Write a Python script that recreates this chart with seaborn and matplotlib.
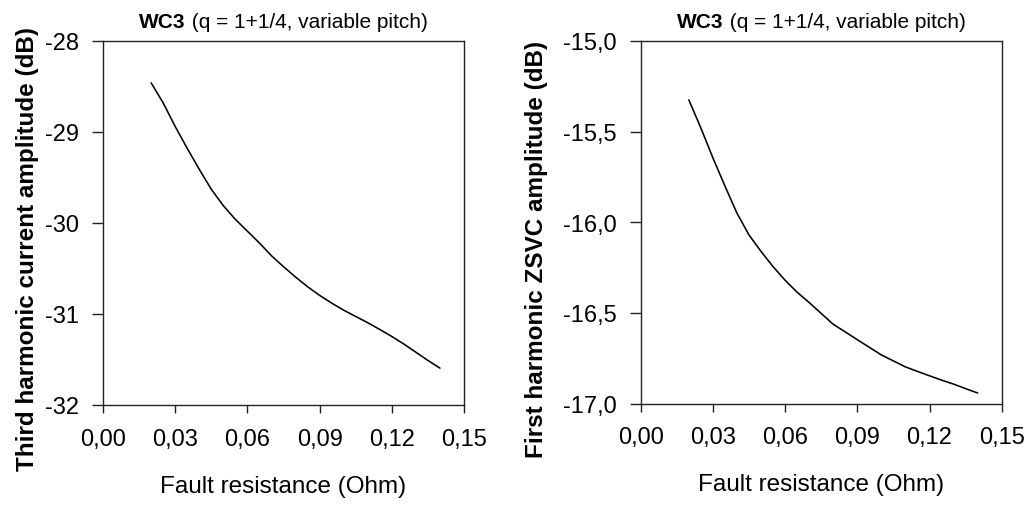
import matplotlib
matplotlib.use("Agg")
import matplotlib.pyplot as plt
import seaborn as sns
import pandas as pd

# ---- data ----
fault_resistance = [0.020, 0.025, 0.030, 0.035, 0.040, 0.045, 0.050, 0.055, 0.060, 0.065,
                    0.070, 0.075, 0.080, 0.085, 0.090, 0.095, 0.100, 0.105, 0.110, 0.115,
                    0.120, 0.125, 0.130, 0.135, 0.140]
third_harmonic_current = [-28.46, -28.68, -28.94, -29.18, -29.41, -29.63, -29.81, -29.96,
                          -30.09, -30.22, -30.36, -30.48, -30.594, -30.70, -30.795, -30.88,
                          -30.958, -31.027, -31.096, -31.17, -31.247, -31.33, -31.42,
                          -31.51, -31.595]
first_harmonic_zsvc = [-15.325, -15.48, -15.645, -15.80, -15.95, -16.07, -16.161, -16.245,
                       -16.32, -16.386, -16.443, -16.503, -16.563, -16.605, -16.648, -16.69,
                       -16.732, -16.765, -16.798, -16.823, -16.847, -16.871, -16.893,
                       -16.918, -16.942]

x_ticks = [0.00, 0.03, 0.06, 0.09, 0.12, 0.15]
x_ticklabels = ["0,00", "0,03", "0,06", "0,09", "0,12", "0,15"]
left_yticks = [-32, -31, -30, -29, -28]
left_yticklabels = ["-32", "-31", "-30", "-29", "-28"]
right_yticks = [-17.0, -16.5, -16.0, -15.5, -15.0]
right_yticklabels = ["-17,0", "-16,5", "-16,0", "-15,5", "-15,0"]

title_bold = "WC3"
title_rest = " (q = 1+1/4, variable pitch)"
xlabel = "Fault resistance (Ohm)"
left_ylabel = "Third harmonic current amplitude (dB)"
right_ylabel = "First harmonic ZSVC amplitude (dB)"

sns.set_theme(style="white")
plt.rcParams["font.family"] = ["Liberation Sans", "DejaVu Sans"]
plt.rcParams["axes.unicode_minus"] = False

TICK_FS = 17
XLAB_FS = 17.5
YLAB_FS = 17.5
TITLE_FS = 15

W, H = 1031, 506
fig = plt.figure(figsize=(W / 100, H / 100), dpi=100)

def make_axes(x0, x1, y_top, y_bot):
    return fig.add_axes([x0 / W, 1 - y_bot / H, (x1 - x0) / W, (y_bot - y_top) / H])

ax1 = make_axes(103, 464, 42, 406)
ax2 = make_axes(640.7, 1001.7, 42, 404.5)

df1 = pd.DataFrame({"x": fault_resistance, "y": third_harmonic_current})
df2 = pd.DataFrame({"x": fault_resistance, "y": first_harmonic_zsvc})

panels = [
    (ax1, df1, left_yticks, left_yticklabels, (-32, -28), left_ylabel, (-0.178, 0.43)),
    (ax2, df2, right_yticks, right_yticklabels, (-0.258, 0.428)),
]
panels[1] = (ax2, df2, right_yticks, right_yticklabels, (-17, -15), right_ylabel, (-0.258, 0.428))

for ax, df, yt, ytl, ylim, ylab, lab_xy in panels:
    sns.lineplot(data=df, x="x", y="y", ax=ax, color="black", linewidth=1.15)
    ax.set_xlim(0, 0.15)
    ax.set_ylim(*ylim)
    ax.set_xticks(x_ticks)
    ax.set_xticklabels(x_ticklabels)
    ax.set_yticks(yt)
    ax.set_yticklabels(ytl)
    for s in ax.spines.values():
        s.set_visible(True)
        s.set_color("#222222")
        s.set_linewidth(1.0)
    ax.tick_params(axis="y", which="major", direction="out", length=8, width=1.0,
                   color="#222222", labelsize=TICK_FS, labelcolor="black", pad=9,
                   left=True, right=False)
    ax.tick_params(axis="x", which="major", direction="out", length=5.5, width=1.0,
                   color="#222222", labelsize=TICK_FS, labelcolor="black", pad=11,
                   bottom=True, top=False)
    ax.set_xlabel(xlabel, fontsize=XLAB_FS, labelpad=18, color="black")
    ax.set_ylabel(ylab, fontsize=YLAB_FS, fontweight="bold", color="black")
    ax.yaxis.set_label_coords(*lab_xy)
    ax.grid(False)

# Titles: bold "WC3" followed by normal text, centered over each axes
fig.canvas.draw()
renderer = fig.canvas.get_renderer()
for ax in (ax1, ax2):
    tmp_b = ax.text(0, 0, title_bold, fontsize=TITLE_FS, fontweight="bold")
    tmp_r = ax.text(0, 0, title_rest, fontsize=TITLE_FS)
    wb = tmp_b.get_window_extent(renderer).width
    wr = tmp_r.get_window_extent(renderer).width
    tmp_b.remove()
    tmp_r.remove()
    bbox = ax.get_window_extent(renderer)
    cx = (bbox.x0 + bbox.x1) / 2
    start = cx - (wb + wr) / 2
    yy = bbox.y1 + 10
    fig.text(start / fig.bbox.width, yy / fig.bbox.height, title_bold, fontsize=TITLE_FS,
             fontweight="bold", ha="left", va="bottom", color="black")
    fig.text((start + wb) / fig.bbox.width, yy / fig.bbox.height, title_rest,
             fontsize=TITLE_FS, ha="left", va="bottom", color="black")

fig.savefig("out.png", dpi=100, facecolor="white")
